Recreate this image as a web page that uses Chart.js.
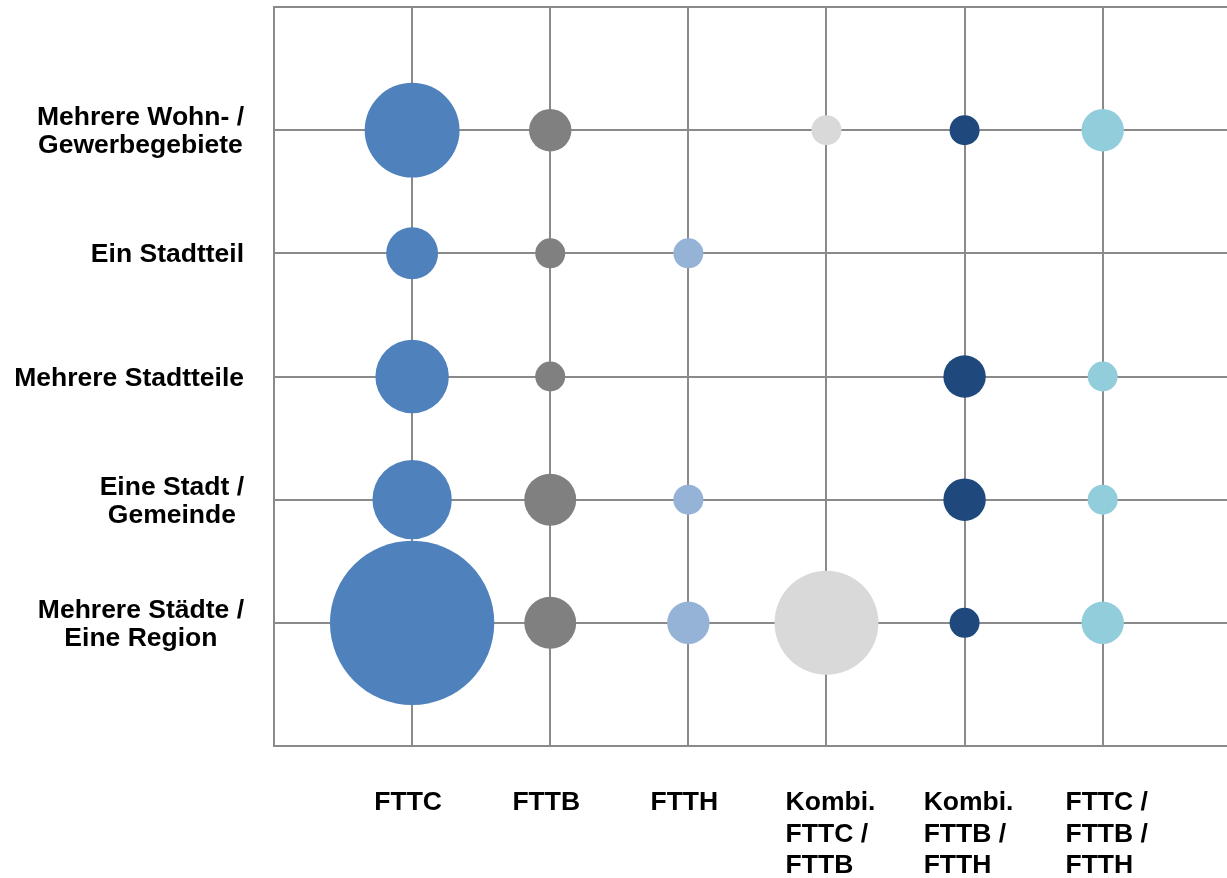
<!DOCTYPE html>
<html>
<head>
<meta charset="utf-8">
<script src="https://cdn.jsdelivr.net/npm/chart.js@4.4.1/dist/chart.umd.min.js"></script>
<style>
  html, body { margin: 0; padding: 0; background: #fff; overflow: hidden; }
  #wrap { width: 1227px; height: 878px; }
</style>
</head>
<body>
<div id="wrap"><canvas id="bubbleChart"></canvas></div>
<script>
// Technologien auf der x-Achse (mehrzeilige Beschriftung)
const technologies = [
  ['FTTC'],
  ['FTTB'],
  ['FTTH'],
  ['Kombi.', 'FTTC /', 'FTTB'],
  ['Kombi.', 'FTTB /', 'FTTH'],
  ['FTTC /', 'FTTB /', 'FTTH']
];

// Ausbaugebiete auf der y-Achse, von unten nach oben
const areas = [
  ['Mehrere Städte /', 'Eine Region'],
  ['Eine Stadt /', 'Gemeinde'],
  ['Mehrere Stadtteile'],
  ['Ein Stadtteil'],
  ['Mehrere Wohn- /', 'Gewerbegebiete']
];

// Anzahl Nennungen je Gebiet (gleiche Reihenfolge wie areas), null = keine
const fttc         = [30, 7, 6, 3, 10];
const fttb         = [3, 3, 1, 1, 2];
const ftth         = [2, 1, null, 1, null];
const kombiCB      = [12, null, null, null, 1];
const kombiBH      = [1, 2, 2, null, 1];
const fttcFttbFtth = [2, 1, 1, null, 2];

const seriesCounts = [fttc, fttb, ftth, kombiCB, kombiBH, fttcFttbFtth];
const seriesNames = ['FTTC', 'FTTB', 'FTTH', 'Kombi. FTTC / FTTB', 'Kombi. FTTB / FTTH', 'FTTC / FTTB / FTTH'];
const seriesColors = ['#4F81BD', '#808080', '#95B3D7', '#D9D9D9', '#1F497D', '#92CDDC'];

const gridX = [0, 1, 2, 3, 4, 5, 6];
const bubbleScale = 15; // Radius in px für eine Nennung (Fläche ~ Anzahl)
const gridColor = '#8A8A8A';
const labelFont = 'bold 26.5px "Liberation Sans", Arial, sans-serif';

const datasets = seriesCounts.map((counts, i) => ({
  label: seriesNames[i],
  data: counts
    .map((c, j) => c ? { x: i + 1, y: j + 1, r: bubbleScale * Math.sqrt(c) } : null)
    .filter(Boolean),
  backgroundColor: seriesColors[i],
  borderWidth: 0,
  hoverBorderWidth: 0
}));

// Achsenbeschriftungen selbst zeichnen (Zeilen links- bzw. mittig ausgerichtet)
const axisLabels = {
  id: 'axisLabels',
  afterDraw(chart) {
    const { ctx, chartArea, scales: { x, y } } = chart;
    ctx.save();
    ctx.font = labelFont;
    ctx.fillStyle = '#000';
    ctx.textBaseline = 'alphabetic';

    ctx.textAlign = 'left';
    technologies.forEach((lines, i) => {
      const w = Math.max(...lines.map(l => ctx.measureText(l).width));
      const left = x.getPixelForValue(i + 1) - w / 2 + (lines.length > 1 ? 4 : -4);
      lines.forEach((l, k) => ctx.fillText(l, left, chartArea.bottom + 64 + k * 31.5));
    });

    ctx.textAlign = 'center';
    areas.forEach((lines, j) => {
      const w = Math.max(...lines.map(l => ctx.measureText(l).width));
      const cx = chartArea.left - 30 - w / 2;
      const cy = y.getPixelForValue(j + 1);
      lines.forEach((l, k) => ctx.fillText(l, cx, cy - (lines.length - 1) * 14 + 9 + k * 28));
    });
    ctx.restore();
  }
};

new Chart(document.getElementById('bubbleChart'), {
  type: 'bubble',
  data: { datasets },
  options: {
    responsive: true,
    maintainAspectRatio: false,
    animation: false,
    layout: {
      autoPadding: false,
      padding: { left: 274, top: 7, right: 0, bottom: 132 }
    },
    plugins: {
      legend: { display: false },
      tooltip: { enabled: false }
    },
    scales: {
      x: {
        type: 'linear',
        min: 0,
        max: 6.9,
        afterBuildTicks: axis => { axis.ticks = gridX.map(v => ({ value: v })); },
        ticks: { display: false },
        grid: { color: gridColor, lineWidth: 2, drawTicks: false },
        border: { color: gridColor, width: 2 }
      },
      y: {
        type: 'linear',
        min: 0,
        max: 6,
        ticks: { display: false, stepSize: 1 },
        grid: { color: gridColor, lineWidth: 2, drawTicks: false },
        border: { color: gridColor, width: 2 }
      }
    }
  },
  plugins: [axisLabels]
});
</script>
</body>
</html>
